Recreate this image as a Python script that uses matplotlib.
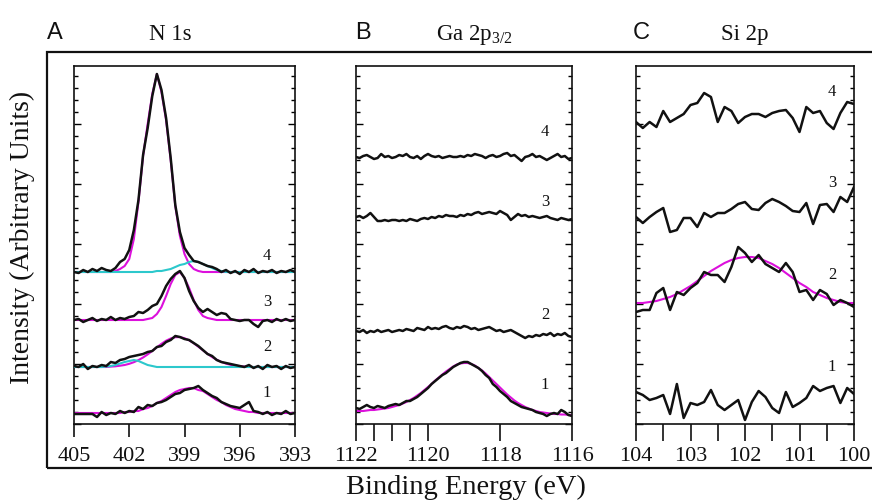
import numpy as np
import matplotlib
matplotlib.use('Agg')
import matplotlib.pyplot as plt
from matplotlib.patches import Rectangle
from matplotlib.ticker import MultipleLocator

plt.rcParams['font.family'] = 'Liberation Serif'
plt.rcParams['mathtext.fontset'] = 'custom'
plt.rcParams['mathtext.rm'] = 'Liberation Serif'
plt.rcParams['mathtext.it'] = 'Liberation Serif:italic'

# ---------------- data (intensity in arbitrary units) ----------------
# Panel A: N 1s, binding energy 405 -> 393 eV, step 0.25 eV
n1s_energy = np.linspace(405, 393, 49)
n1s_4 = [152, 151, 154, 152, 155, 153, 156, 154, 153, 156, 162, 165, 174, 194, 224, 269, 296,
         328, 350, 334, 306, 266, 219, 192, 176, 169, 163, 162, 160, 158, 157, 155, 152,
         154, 151, 153, 150, 154, 152, 155, 151, 153, 152, 154, 151, 153, 152, 154, 152]
n1s_4_fit = [152, 152, 152, 152, 152, 152, 152, 152, 152, 153, 155, 158, 165, 185, 222, 268, 300,
             330, 350, 332, 304, 264, 218, 188, 170, 160, 155, 153, 152, 152, 152, 152, 152,
             152, 152, 152, 152, 152, 152, 152, 152, 152, 152, 152, 152, 152, 152, 152, 152]
n1s_4_comp = [152, 152, 152, 152, 152, 152, 152, 152, 152, 152, 152, 152, 152, 152, 152, 152, 152,
              152, 153, 153, 154, 155, 157, 159, 160, 162, 163, 162, 160, 158, 156, 154, 153,
              152, 152, 152, 152, 152, 152, 152, 152, 152, 152, 152, 152, 152, 152, 152, 152]
n1s_3 = [104, 105, 102, 104, 106, 103, 105, 104, 107, 104, 106, 105, 107, 108, 112, 111, 114,
         118, 120, 128, 138, 145, 150, 153, 146, 133, 123, 116, 112, 115, 112, 109, 111,
         110, 105, 104, 103, 104, 104, 100, 97, 103, 104, 102, 105, 103, 105, 103, 104]
n1s_3_fit = [104, 104, 104, 104, 104, 104, 104, 104, 104, 104, 104, 104, 104, 104, 104, 104, 105,
             106, 110, 117, 128, 140, 149, 152, 146, 136, 124, 114, 108, 106, 105, 104, 104,
             104, 104, 104, 104, 104, 104, 104, 104, 104, 104, 104, 104, 104, 104, 104, 104]
n1s_2 = [58, 57, 60, 55, 58, 57, 59, 58, 62, 61, 64, 65, 67, 68, 69, 70, 72,
         73, 77, 78, 82, 84, 88, 87, 85, 84, 81, 78, 74, 70, 68, 64, 62,
         61, 60, 59, 58, 57, 59, 56, 58, 55, 59, 57, 58, 55, 58, 56, 57]
n1s_2_fit = [57, 57, 57, 57, 57, 57, 57, 57, 57.4, 57.7, 58.3, 59, 60.2, 61.8, 63.9, 66.5, 69.6,
             73.1, 76.7, 80.2, 83.3, 85.5, 86.8, 86.9, 85.8, 83.7, 80.8, 77.3, 73.7, 70.2, 66.9, 64.2, 62.1,
             60.4, 59.2, 58.4, 57.8, 57.5, 57, 57, 57, 57, 57, 57, 57, 57, 57, 57, 57]
n1s_2_comp = [57, 57, 57, 57, 57, 57, 57, 57.5, 58, 59, 60.5, 62, 63, 64, 63, 61, 59,
              58, 57, 57, 57, 57, 57, 57, 57, 57, 57, 57, 57, 57, 57, 57, 57,
              57, 57, 57, 57, 57, 57, 57, 57, 57, 57, 57, 57, 57, 57, 57, 57]
n1s_1 = [10, 10, 10, 10, 10, 7, 12, 9, 11, 10, 13, 11, 13, 12, 17, 15, 19,
         18, 21, 22, 24, 27, 30, 31, 34, 35, 36, 38, 34, 31, 28, 26, 22,
         20, 18, 17, 16, 19, 22, 13, 12, 10, 12, 9, 11, 10, 13, 10, 11]
n1s_1_fit = [11, 11, 11, 11, 11, 11, 11, 11, 11, 11, 11, 12, 12, 13, 13, 15, 16,
             18, 21, 23, 26, 29, 32, 34, 35, 36, 36, 34, 33, 30, 27, 24, 22,
             19, 17, 15, 14, 13, 12, 12, 11, 11, 11, 11, 11, 11, 11, 11, 11]

# Panel B: Ga 2p3/2, 1122 -> 1116 eV, step 0.1 eV
ga_energy = np.linspace(1122, 1116, 61)
ga_4 = [267, 266, 268, 269, 267, 265, 266, 270, 267, 268,
        266, 267, 269, 268, 270, 267, 266, 268, 265, 268,
        270, 268, 267, 268, 266, 267, 268, 267, 267, 268,
        267, 269, 268, 270, 269, 268, 266, 268, 269, 267,
        268, 270, 271, 268, 269, 266, 263, 267, 268, 270,
        267, 268, 266, 264, 266, 268, 270, 267, 268, 265, 266]
ga_3 = [207, 208, 206, 208, 211, 207, 203, 203, 204, 203,
        204, 204, 203, 204, 203, 205, 204, 203, 205, 206,
        205, 207, 206, 208, 207, 209, 208, 208, 207, 209,
        208, 210, 209, 211, 212, 210, 211, 212, 211, 210,
        213, 211, 209, 204, 207, 210, 208, 209, 207, 208,
        207, 206, 207, 208, 206, 205, 204, 206, 205, 204, 205]
ga_2 = [93, 92, 94, 91, 93, 92, 94, 92, 93, 94,
        92, 93, 94, 93, 95, 94, 93, 96, 95, 94,
        97, 95, 96, 95, 97, 98, 96, 95, 97, 96,
        98, 97, 95, 96, 94, 95, 96, 97, 95, 93,
        94, 92, 93, 94, 92, 90, 88, 86, 88, 87,
        89, 88, 90, 89, 91, 88, 90, 89, 91, 88, 87]
ga_1 = [16, 15, 17, 19, 17, 16, 18, 17, 16, 18,
        19, 20, 19, 21, 23, 23, 25, 27, 30, 33,
        36, 40, 43, 46, 49, 51, 54, 57, 59, 61,
        62, 62, 60, 58, 56, 53, 49, 46, 40, 37,
        33, 30, 27, 23, 21, 19, 17, 16, 15, 14,
        12, 11, 10, 8, 10, 11, 10, 14, 12, 9, 8]
ga_1_fit = [13, 13, 13, 13.5, 14, 14, 14.5, 15, 15.5, 16,
            17, 18, 19, 20.5, 22, 24, 26, 28.5, 31, 34,
            37, 40, 43.5, 46.5, 49.5, 52.5, 55, 57.5, 59.5, 60.5,
            61, 61, 60, 58.5, 56, 53.5, 50.5, 47, 43.5, 40,
            36.5, 33, 29.5, 26.5, 23.5, 21, 19, 17, 15.5, 14,
            13, 12, 11.5, 11, 10.5, 10, 10, 9.5, 9.5, 9, 9]

# Panel C: Si 2p, 104 -> 100 eV, step 0.125 eV
si_energy = np.linspace(104, 100, 33)
si_4 = [302, 296, 302, 297, 313, 302, 306, 310, 319, 321, 331, 327, 302, 317, 313, 301, 307,
        310, 310, 307, 311, 313, 314, 306, 292, 317, 311, 313, 301, 295, 311, 322, 320]
si_3 = [207, 201, 207, 212, 216, 192, 194, 206, 206, 197, 211, 207, 211, 211, 215, 220, 222,
        215, 214, 221, 225, 222, 218, 213, 212, 221, 200, 219, 220, 212, 227, 222, 237]
si_2 = [112, 114, 114, 131, 136, 114, 132, 129, 136, 141, 152, 149, 149, 142, 157, 177, 171,
        162, 169, 160, 156, 152, 161, 152, 132, 134, 124, 134, 130, 119, 124, 121, 117]
si_2_fit = [121, 121, 122, 123, 125, 127, 130, 134, 138, 143, 148, 153, 157, 161, 164, 166, 167,
            167, 166, 163, 160, 156, 151, 146, 141, 137, 132, 129, 126, 124, 122, 121, 121]
si_1 = [32, 29, 24, 26, 29, 10, 40, 6, 21, 19, 22, 34, 19, 14, 19, 24, 4,
        22, 33, 27, 16, 11, 32, 17, 21, 26, 38, 33, 36, 38, 21, 36, 30]

trace_labels = ['1', '2', '3', '4']
panel_letters = ['A', 'B', 'C']
panel_titles = ['N 1s', r'Ga 2p$_{\mathrm{3/2}}$', 'Si 2p']

n1s_ticks = [405, 402, 399, 396, 393]
ga_ticks = [1122, 1121.5, 1121, 1120.5, 1120, 1118, 1116]
ga_ticklabels = ['1122', '', '', '', '1120', '1118', '1116']
si_ticks = [104, 103.5, 103, 102.5, 102, 101.5, 101, 100.5, 100]
si_ticklabels = ['104', '', '103', '', '102', '', '101', '', '100']

# ---------------- styling ----------------
BLACK = '#111111'
MAG = '#dc10dc'
CYAN = '#2cc8cc'
W, H = 872, 501

fig = plt.figure(figsize=(W / 100, H / 100), dpi=100)


def px_axes(x0, x1, y0=66, y1=424):
    return fig.add_axes([x0 / W, (H - y1) / H, (x1 - x0) / W, (y1 - y0) / H])


axA = px_axes(74, 295)
axB = px_axes(356, 572)
axC = px_axes(636, 854)

for ax, ticklen, pad in [(axA, 9.0, 7.5), (axB, 12.5, 4.0), (axC, 12.5, 4.0)]:
    ax.set_ylim(0, 358)
    ax.yaxis.set_major_locator(MultipleLocator(60))
    ax.yaxis.set_minor_locator(MultipleLocator(12))
    ax.tick_params(axis='y', which='major', direction='in', length=5, width=1.0,
                   left=True, right=True, labelleft=False)
    ax.tick_params(axis='y', which='minor', direction='in', length=2.8, width=1.0,
                   left=True, right=True)
    ax.tick_params(axis='x', which='major', direction='out', length=ticklen, width=1.2,
                   labelsize=16, pad=pad, top=False, colors=BLACK)
    for s in ax.spines.values():
        s.set_linewidth(1.2)
        s.set_color(BLACK)

# Panel A
axA.set_xlim(405, 393)
axA.set_xticks(n1s_ticks)
axA.set_xticklabels([str(t) for t in n1s_ticks])
for fit in [n1s_4_fit, n1s_3_fit, n1s_2_fit, n1s_1_fit]:
    axA.plot(n1s_energy, fit, color=MAG, lw=1.5, zorder=2)
for comp in [n1s_4_comp, n1s_2_comp]:
    axA.plot(n1s_energy, comp, color=CYAN, lw=1.5, zorder=3)
for tr in [n1s_4, n1s_3, n1s_2, n1s_1]:
    axA.plot(n1s_energy, tr, color=BLACK, lw=1.8, zorder=4)

# Panel B
axB.set_xlim(1122, 1116)
axB.set_xticks(ga_ticks)
axB.set_xticklabels(ga_ticklabels)
axB.plot(ga_energy, ga_1_fit, color=MAG, lw=1.5, zorder=2)
for tr in [ga_4, ga_3, ga_2, ga_1]:
    axB.plot(ga_energy, tr, color=BLACK, lw=1.8, zorder=4)

# Panel C
axC.set_xlim(104, 100)
axC.set_xticks(si_ticks)
axC.set_xticklabels(si_ticklabels)
axC.plot(si_energy, si_2_fit, color=MAG, lw=1.5, zorder=2)
for tr in [si_4, si_3, si_2, si_1]:
    axC.plot(si_energy, tr, color=BLACK, lw=1.8, zorder=4)

# trace numbers (axes-fraction placement)
label_pos = {
    axA: (0.873, [0.087, 0.215, 0.341, 0.469]),
    axB: (0.875, [0.109, 0.304, 0.620, 0.816]),
    axC: (0.899, [0.159, 0.416, 0.673, 0.927]),
}
for ax, (lx, lys) in label_pos.items():
    for lab, ly in zip(trace_labels, lys):
        ax.text(lx, ly, lab, transform=ax.transAxes, ha='center', va='center',
                fontsize=12, color=BLACK, zorder=5)

# panel letters and titles
for letter, lx in zip(panel_letters, [47, 355, 633]):
    fig.text(lx / W, (H - 39) / H, letter, family='Liberation Sans', fontsize=17,
             ha='left', va='baseline', color=BLACK)
for title, tx in zip(panel_titles, [170, 475, 745]):
    fig.text(tx / W, (H - 40) / H, title, fontsize=16.5, ha='center', va='baseline',
             color=BLACK)

# outer frame
fig.add_artist(Rectangle((47 / W, (H - 468) / H), 1.1, (468 - 52) / H,
                         transform=fig.transFigure, fill=False, lw=1.6,
                         edgecolor=BLACK, clip_on=False))

# axis labels
fig.text(22 / W, (H - 237) / H, 'Intensity (Arbitrary Units)', rotation=90,
         ha='center', va='center', fontsize=20, color=BLACK)
fig.text(466 / W, 7.5 / H, 'Binding Energy (eV)', ha='center', va='baseline',
         fontsize=20.5, color=BLACK)

fig.savefig('out.png', dpi=100)
